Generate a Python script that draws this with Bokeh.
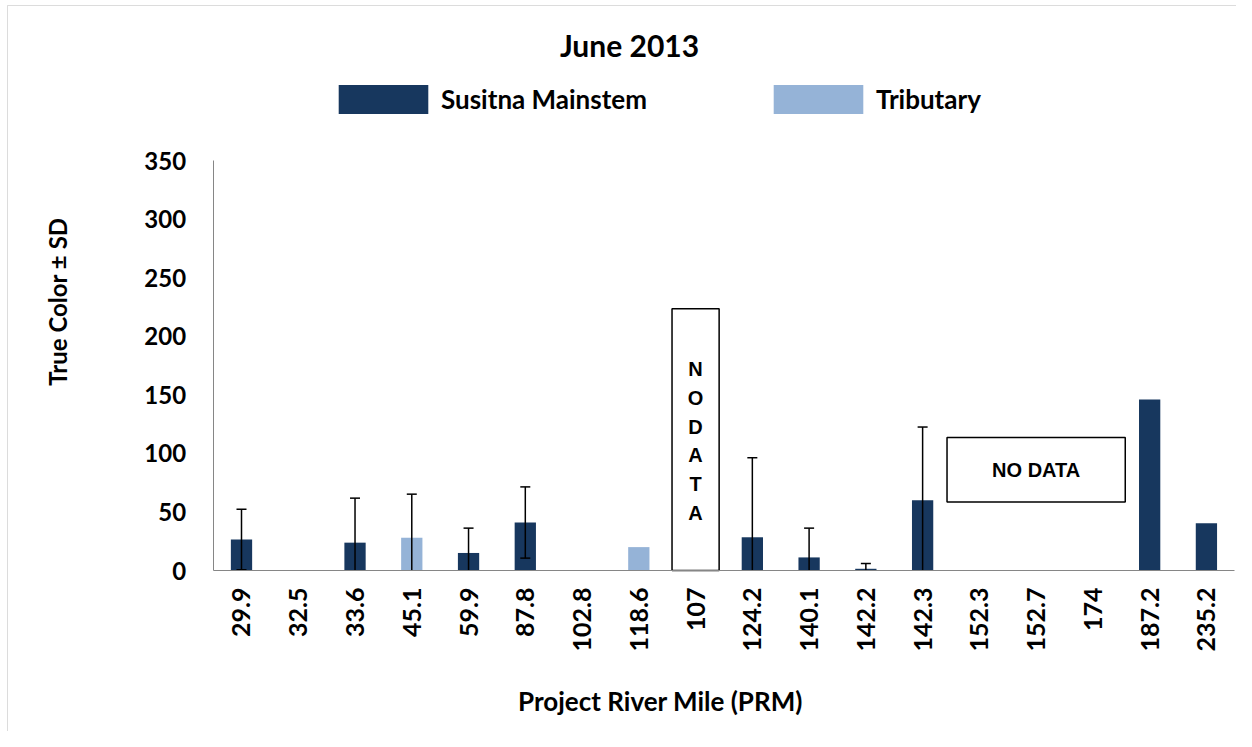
import math
from bokeh.plotting import figure
from bokeh.models import Range1d, Legend, LegendItem, Label, FixedTicker, BoxAnnotation
from bokeh.core.properties import value
from bokeh.embed import file_html
from bokeh.resources import INLINE

# ---- data ----
categories = ["29.9", "32.5", "33.6", "45.1", "59.9", "87.8", "102.8", "118.6", "107",
              "124.2", "140.1", "142.2", "142.3", "152.3", "152.7", "174", "187.2", "235.2"]
main_cats = ["29.9", "32.5", "33.6", "59.9", "87.8", "102.8", "124.2", "140.1", "142.2", "142.3", "187.2", "235.2"]
main_vals = [26.5, 0.0, 23.8, 15.0, 41.0, 0.0, 28.4, 11.2, 1.5, 60.0, 146.0, 40.3]
trib_cats = ["45.1", "118.6"]
trib_vals = [28.0, 20.0]
sd_cats = ["29.9", "33.6", "45.1", "59.9", "87.8", "124.2", "140.1", "142.2", "142.3"]
sd_means = [26.5, 23.8, 28.0, 15.0, 41.0, 28.4, 11.2, 1.5, 60.0]
sd_vals = [25.8, 38.0, 37.2, 21.2, 30.4, 67.9, 25.0, 4.5, 62.5]
nodata_cats = ["107", "152.7"]
nodata_bottom = [0.0, 58.5]
nodata_top = [223.5, 113.5]
nodata_width = [0.83, 3.14]
nodata_text = ["N\nO\nD\nA\nT\nA", "NO DATA"]
nodata_text_y = [110.5, 85.5]
y_ticks = [0, 50, 100, 150, 200, 250, 300, 350]

DARK = "#17375E"
LIGHT = "#95B3D7"
GREY = "#868686"
FONT = "Lato"

W, H = 1236, 731
pos = {c: i for i, c in enumerate(categories)}

p = figure(width=W, height=H, output_backend="svg", toolbar_location=None,
           x_range=Range1d(-4.246, 17.53), y_range=Range1d(-137.4, 486.6),
           min_border=0)
p.outline_line_color = None
p.grid.grid_line_color = None
p.background_fill_color = "white"
p.border_fill_color = "white"

# chart-area border (left and top edges)
p.add_layout(BoxAnnotation(left=7, right=W + 50, top=H - 5, bottom=-50,
                           left_units="screen", right_units="screen",
                           top_units="screen", bottom_units="screen",
                           fill_alpha=0, line_color="#8c8c8c", line_width=1))

# bars
r_main = p.vbar(x=[pos[c] for c in main_cats], top=main_vals, width=0.375, color=DARK, line_color=None)
r_trib = p.vbar(x=[pos[c] for c in trib_cats], top=trib_vals, width=0.375, color=LIGHT, line_color=None)

# error bars (clipped at the zero baseline, as in the source chart)
sd_x = [pos[c] for c in sd_cats]
hi = [m + s for m, s in zip(sd_means, sd_vals)]
lo = [m - s for m, s in zip(sd_means, sd_vals)]
p.segment(x0=sd_x, x1=sd_x, y0=[max(v, 0) for v in lo], y1=hi, line_color="black", line_width=1.5)
p.scatter(x=sd_x, y=hi, marker="dash", size=10, line_color="black", line_width=1.5)
lo_x = [x for x, v in zip(sd_x, lo) if v >= 0]
lo_y = [v for v in lo if v >= 0]
p.scatter(x=lo_x, y=lo_y, marker="dash", size=10, line_color="black", line_width=1.5)

# NO DATA boxes
p.rect(x=[pos[c] for c in nodata_cats], y=[(b + t) / 2 for b, t in zip(nodata_bottom, nodata_top)],
       width=nodata_width, height=[t - b for b, t in zip(nodata_bottom, nodata_top)],
       fill_color="white", line_color="black", line_width=1.5)
p.text(x=[pos[c] for c in nodata_cats], y=nodata_text_y, text=nodata_text, text_align="center",
       text_baseline="middle", text_font=value("Liberation Sans"), text_font_style="bold",
       text_font_size="20px", text_line_height=1.31, text_color="black")

# axes (drawn at the zero line / left edge of the first category)
xa = p.xaxis[0]
ya = p.yaxis[0]
xa.fixed_location = 0
xa.bounds = (-0.5, len(categories) - 0.5)
xa.ticker = FixedTicker(ticks=list(range(len(categories))))
xa.major_label_overrides = {i: c for i, c in enumerate(categories)}
xa.major_label_orientation = math.pi / 2
xa.major_label_standoff = 11
ya.fixed_location = -0.5
ya.bounds = (0, 350)
ya.ticker = FixedTicker(ticks=y_ticks)
ya.major_label_standoff = 21
for ax in (xa, ya):
    ax.axis_line_color = GREY
    ax.axis_line_width = 1
    ax.major_tick_line_color = None
    ax.minor_tick_line_color = None
    ax.major_label_text_font = FONT
    ax.major_label_text_font_style = "bold"
    ax.major_label_text_color = "black"
xa.major_label_text_font_size = "25px"
ya.major_label_text_font_size = "24px"

# title and axis titles
p.add_layout(Label(x=6.836, y=448.2, text="June 2013", text_align="center", text_baseline="middle",
                   text_font=FONT, text_font_style="bold", text_font_size="30px", text_color="black"))
p.add_layout(Label(x=7.382, y=-111, text="Project River Mile (PRM)", text_align="center",
                   text_baseline="middle", text_font=FONT, text_font_style="bold",
                   text_font_size="26px", text_color="black"))
p.add_layout(Label(x=-3.242, y=229.6, text="True Color ± SD", angle=math.pi / 2, text_align="center",
                   text_baseline="middle", text_font=FONT, text_font_style="bold",
                   text_font_size="24px", text_color="black"))

# legend (glyph boxes are drawn with a 10% inset, hence the larger glyph area)
legend = Legend(items=[LegendItem(label="Susitna Mainstem", renderers=[r_main]),
                       LegendItem(label="Tributary", renderers=[r_trib])],
                location=(327, H - 117), orientation="horizontal",
                glyph_width=112, glyph_height=36,
                label_standoff=2, spacing=115, padding=0, margin=0,
                border_line_alpha=0, background_fill_alpha=0,
                label_text_font=FONT, label_text_font_style="bold", label_text_font_size="26px",
                label_text_color="black")
p.add_layout(legend, "center")

open("out.html", "w").write(file_html(p, INLINE))
